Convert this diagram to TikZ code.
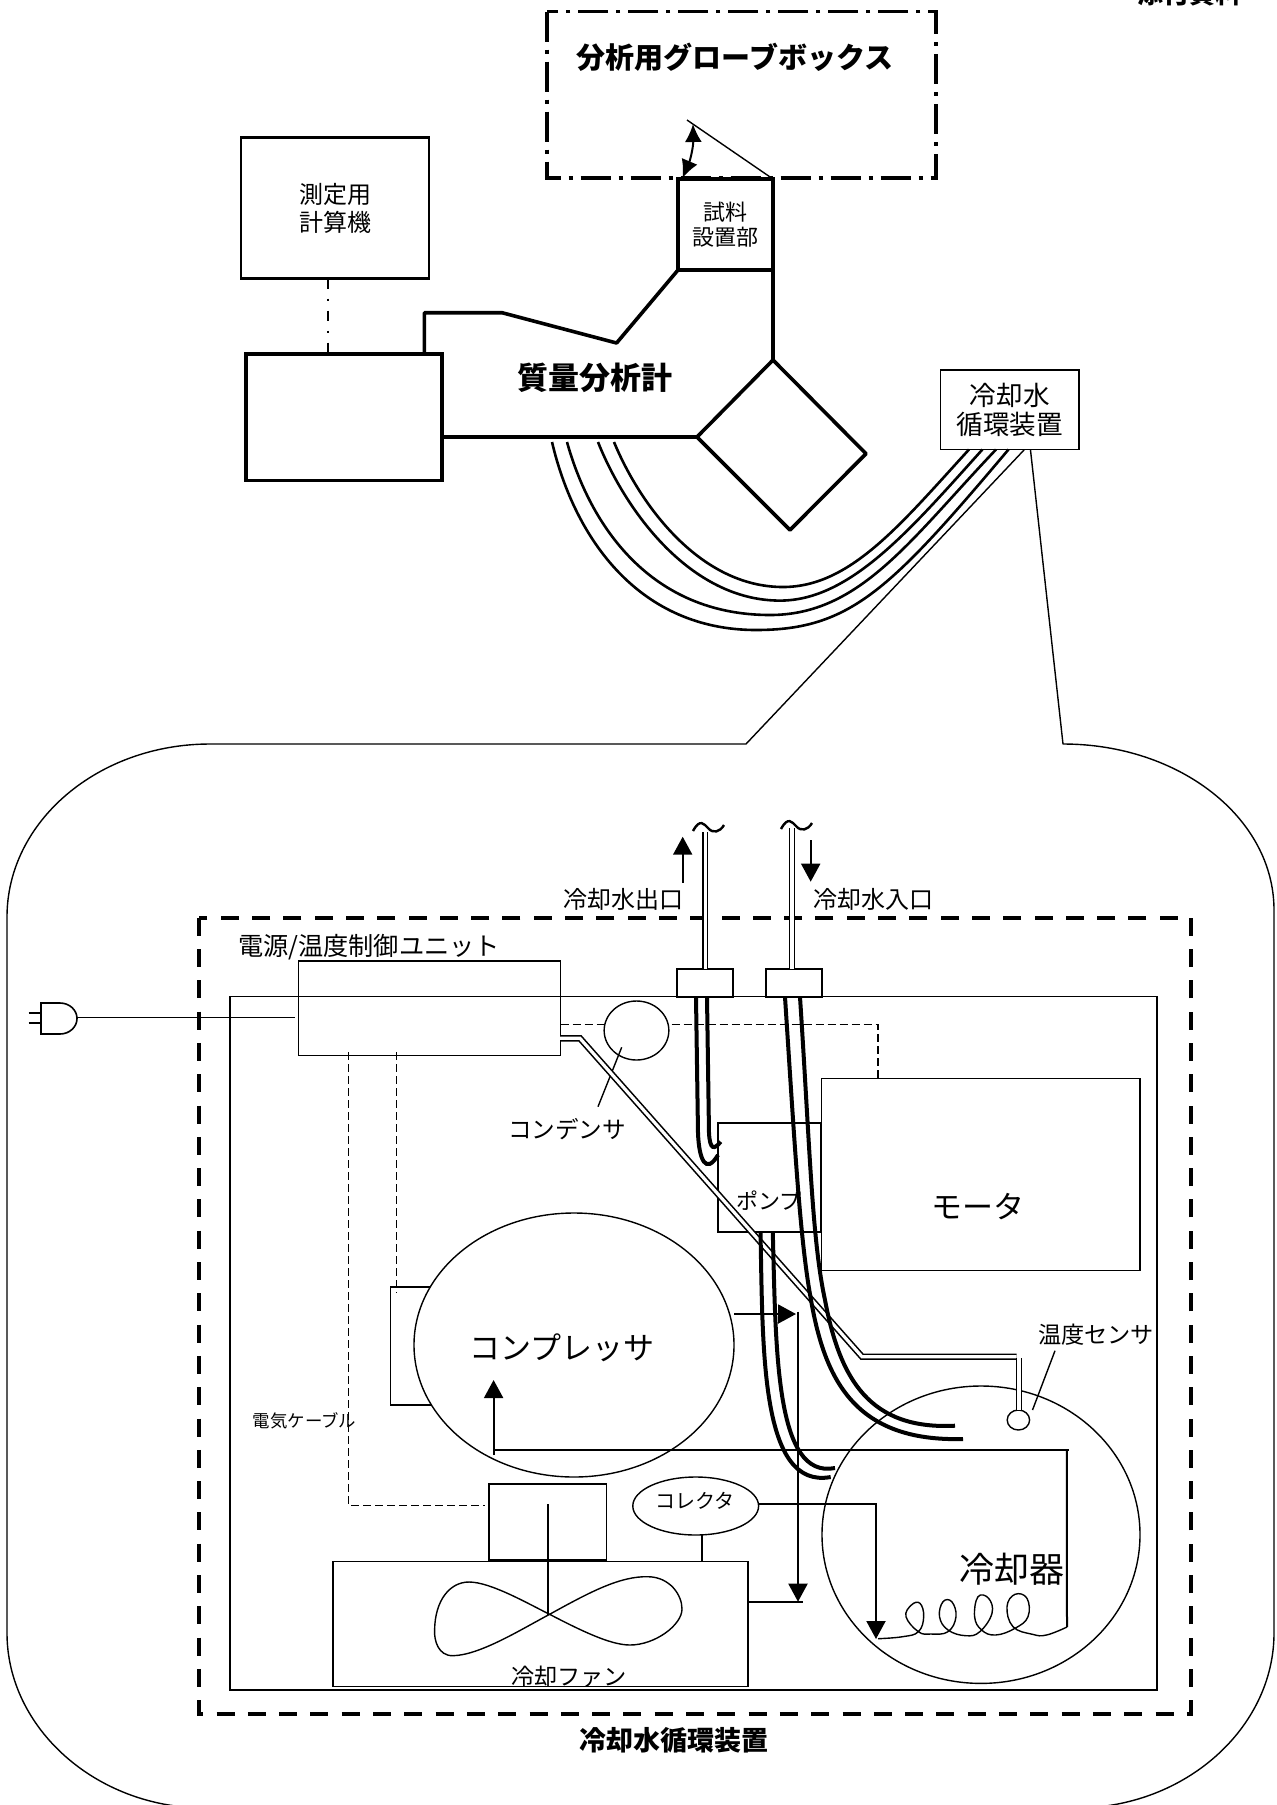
\documentclass[tikz,border=0pt]{standalone}
\usepackage{fontspec}
\setmainfont{Noto Sans CJK JP}
\usepackage{xcolor}
\usetikzlibrary{shapes.geometric, arrows.meta, calc}
\newcommand{\jpsize}[2]{\fontsize{#1pt}{#2pt}\selectfont}
\tikzset{
  unitbox/.style={draw, inner sep=0pt, outer sep=0pt, line width=.7pt},
  heavybox/.style={unitbox, line width=1.8pt},
  unitoval/.style={unitbox, ellipse},
  thinline/.style={line width=.7pt},
  heavyline/.style={line width=1.8pt},
  flowline/.style={line width=1pt, -{Triangle[length=9pt,width=9.5pt]}},
  signalline/.style={line width=.6pt, dash pattern=on 4pt off 2pt},
  coolpipe/.style={line width=2pt},
  hoseline/.style={line width=1.3pt},
  sensorline/.style={draw=black, line width=.8pt, double=white, double distance=1.6pt},
  label/.style={inner sep=0pt, outer sep=0pt, align=center}
}
\begin{document}
\begin{tikzpicture}[x=.5pt, y=-.5pt]
  \useasboundingbox (0,0) rectangle (1276,1805);
  % upper part
  \node[label, font=\bfseries\jpsize{13}{14}, anchor=base west] (annex) at (1137,3) {添付資料－};
  \draw[line width=1.7pt, dash pattern=on 15pt off 4pt on 2pt off 4pt] (547,11.5) rectangle (936,178);
  \node[label, font=\bfseries\jpsize{14.5}{16}] (glovelabel) at (735,57) {分析用グローブボックス};
  \node[heavybox, minimum width=93.75pt, minimum height=70.5pt, line width=1.2pt, font=\jpsize{12}{14}, align=center] (computer) at (335,208) {測定用\\計算機};
  \node[heavybox, minimum width=98pt, minimum height=63.3pt] (msbox) at (344,417.3) {};
  \node[heavybox, minimum width=47.5pt, minimum height=45.5pt, font=\jpsize{11}{12.5}, align=center] (sample) at (725.5,224.5) {試料\\設置部};
  \node[unitbox, minimum width=69.2pt, minimum height=39.75pt, font=\jpsize{13.3}{14.7}, align=center] (chiller) at (1009.8,409.8) {冷却水\\循環装置};
  \draw[line width=1pt, dash pattern=on 5pt off 5pt on 1pt off 5pt] ([xshift=-3.5pt]computer.south) -- ([xshift=-8pt]msbox.north);
  \draw[thinline] (687,120) -- (sample.north east);
  \draw[line width=1pt, {Latex[length=9pt,width=8.5pt]}-{Latex[length=9pt,width=8.5pt]}] (682.5,178) to[bend right=12] (693,124);
  % mass spectrometer outline
  \coordinate (difftop) at (773,360);
  \coordinate (diffleft) at (697,437);
  \draw[heavyline, line join=round] (424.4,354) -- (424.4,312.7) -- (502,312.7) -- (616.6,343) -- (sample.south west);
  \draw[heavyline] (sample.south east) -- (difftop);
  \draw[heavyline] (msbox.east |- diffleft) -- (diffleft);
  \draw[heavyline, line join=round] (difftop) -- (866,453.7) -- (790,530) -- (diffleft) -- cycle;
  \node[label, font=\bfseries\jpsize{15.5}{17}] (mslabel) at (594.6,377.5) {質量分析計};
  % cooling water hoses
  \draw[hoseline] (614,442) .. controls (640,505) and (700,587) .. (783,587) .. controls (850,587) and (900,525) .. (969,449.5);
  \draw[hoseline] (598,442) .. controls (625,510) and (690,600.6) .. (780,600.6) .. controls (850,600.6) and (910,530) .. (982.4,449.5);
  \draw[hoseline] (567,442) .. controls (590,525) and (650,615) .. (770,615) .. controls (860,615) and (910,540) .. (996,449.5);
  \draw[hoseline] (552,442) .. controls (575,540) and (640,630) .. (756,630) .. controls (850,630) and (890,590) .. (1008.5,449.5);
  % callout outline
  \draw[thinline, line join=round] (1024,450) -- (746,744) -- (210,744)
    .. controls (98,744) and (7,821.5) .. (7,917) -- (7,1633)
    .. controls (7,1728) and (96,1808) .. (205,1808) -- (1076,1808)
    .. controls (1185,1808) and (1274,1728) .. (1274,1633) -- (1274,910)
    .. controls (1274,818) and (1179.5,744) .. (1063,744) -- (1030.5,450);
  % chiller unit
  \draw[line width=2pt, dash pattern=on 9pt off 6.65pt] (199,917.7) rectangle (1191,1714);
  \draw[thinline] (230,996.7) rectangle (1157,1690);
  \node[unitbox, minimum width=131.1pt, minimum height=47.35pt] (ctrl) at (429.6,1008.3) {};
  \node[label, font=\jpsize{12.6}{14}, anchor=west] (ctrllabel) at (238,947) {電源/温度制御ユニット};
  \node[unitbox, minimum width=28pt, minimum height=14pt] (outlet) at (705,983) {};
  \node[unitbox, minimum width=28pt, minimum height=14pt] (inlet) at (794,983) {};
  \node[unitbox, minimum width=51.5pt, minimum height=54.5pt] (pump) at (769.5,1177.5) {};
  \node[unitbox, minimum width=159.2pt, minimum height=96.2pt] (motor) at (980.8,1174.5) {};
  \node[unitoval, minimum width=32.35pt, minimum height=29.5pt] (condenser) at (636.5,1030.5) {};
  \node[unitbox, minimum width=30pt, minimum height=59pt] (terminal) at (420.7,1346) {};
  \node[unitoval, fill=white, minimum width=160pt, minimum height=132pt] (compressor) at (574,1345) {};
  \node[unitoval, minimum width=159pt, minimum height=148.7pt] (cooler) at (981,1534.7) {};
  \node[unitoval, minimum width=11.2pt, minimum height=10pt] (sensor) at (1018.4,1420) {};
  \node[unitoval, minimum width=62.9pt, minimum height=29pt] (collector) at (695.7,1506) {};
  \node[unitbox, minimum width=207.5pt, minimum height=62.7pt] (fanbox) at (540.5,1624) {};
  \node[unitbox, minimum width=58.7pt, minimum height=38pt] (fanmotor) at (547.7,1522) {};
  % labels
  \node[label, font=\jpsize{12}{14}] (outletlabel) at (623,899) {冷却水出口};
  \node[label, font=\jpsize{12}{14}] (inletlabel) at (873,899) {冷却水入口};
  \node[label, font=\jpsize{11.8}{14}] (condenserlabel) at (567,1129) {コンデンサ};
  \node[label, font=\jpsize{11}{13}] (pumplabel) at (768.7,1201) {ポンプ};
  \node[label, font=\jpsize{15.5}{17}] (motorlabel) at (978,1207) {モータ};
  \node[label, font=\jpsize{15.5}{17}] (compressorlabel) at (562,1348) {コンプレッサ};
  \node[label, font=\jpsize{11.6}{14}] (sensorlabel) at (1096,1335) {温度センサ};
  \node[label, font=\jpsize{8.7}{10}] (cablelabel) at (304.6,1421) {電気ケーブル};
  \node[label, font=\jpsize{10}{12}] (collectorlabel) at (695,1501) {コレクタ};
  \node[label, font=\jpsize{17.5}{20}] (coolerlabel) at (1012,1569) {冷却器};
  \node[label, font=\jpsize{11.6}{13}] (fanlabel) at (569,1677) {冷却ファン};
  \node[label, font=\bfseries\jpsize{13.5}{15}] (unitlabel) at (674,1740) {冷却水循環装置};
  % plug and cables
  \draw[line width=.8pt] (41,1003) -- (60,1003) arc[start angle=90, end angle=-90, x radius=17, y radius=-15.5] -- (41,1034) -- cycle;
  \draw[line width=.8pt] (28.5,1012.7) -- (41,1012.7) (28.5,1022.7) -- (41,1022.7);
  \draw[thinline] (77,1017.3) -- ([xshift=-2pt,yshift=-4.5pt]ctrl.west);
  \draw[signalline] (348.8,1052) -- (348.8,1505.7) -- (485.4,1505.7);
  \draw[signalline] (396.6,1052) -- (396.6,1292.7);
  \draw[signalline] (ctrl.east |- 0,1024.7) -- (condenser.west |- 0,1024.7);
  \draw[signalline] (671.7,1024.7) -- (878,1024.7) -- (878,1081.7);
  \draw[thinline] (621.7,1047.3) -- (598,1106.7);
  \draw[thinline] (1055,1350.7) -- (1032.5,1410);
  % temperature sensor tube
  \draw[sensorline, line join=miter] (560,1038.3) -- (580,1038.3) -- (862,1356.7) -- (1016.7,1356.7);
  \draw[sensorline] (1019,1358) -- (1019,1410);
  % refrigerant lines
  \coordinate (coilstart) at (876,1639);
  \coordinate (coilend) at (1067,1627);
  \coordinate (junction) at (798,1601.7);
  \draw[flowline] (734,1314) -- (796,1314);
  \draw[flowline] (798,1311.7) -- (junction);
  \draw[line width=1pt] (junction -| fanbox.east) -- (802.6,1601.7);
  \draw[flowline] (493.6,1455) -- (493.6,1380);
  \draw[line width=1pt] (493.6,1450) -- (1069,1450);
  \draw[line width=1pt] (1066.8,1450) -- (coilend);
  \draw[flowline] (collector.east |- 0,1504) -| (coilstart);
  \draw[line width=1pt] ([xshift=3pt]collector.south) -- ([xshift=3pt]collector.south |- fanbox.north);
  \draw[thinline] plot[smooth, tension=.7] coordinates {(878,1638.7) (902.6,1636.7) (918.4,1631.7) (923.7,1616.7) (920,1603.3) (911.4,1605) (906,1616.7) (918.4,1631.7) (930.7,1634) (948,1631.7) (956,1616.7) (951.8,1601.7) (943,1601.7) (939.5,1616.7) (948,1630) (965.8,1635.7) (979.8,1631.7) (992,1613.3) (988.6,1598.3) (978,1596.7) (974.6,1616.7) (981.6,1630) (995.6,1635) (1015,1628.3) (1028,1616.7) (1027,1598.3) (1015,1594.3) (1007,1606.7) (1013,1626.7) (1032.5,1634.3) (1046.5,1635) (coilend)};
  % fan
  \coordinate (fanhub) at (549.6,1614.3);
  \draw[thinline] (548,1504) -- (548,1615);
  \draw[thinline] (fanhub) .. controls (590,1592) and (620,1576) .. (648,1576.7) .. controls (670,1577) and (682,1595) .. (682,1609) .. controls (682,1625) and (655,1645) .. (630,1645) .. controls (610,1645) and (580,1630) .. (fanhub);
  \draw[thinline] (fanhub) .. controls (520,1630) and (480,1655) .. (453,1655.7) .. controls (438,1656) and (434,1640) .. (434.6,1630) .. controls (435,1600) and (450,1582) .. (469,1582) .. controls (490,1582) and (525,1602) .. (fanhub);
  % water pipes
  \draw[coolpipe] (696,997) -- (698,1133) .. controls (699,1160) and (706,1175) .. (718,1155);
  \draw[coolpipe] (707,997) -- (709,1133) .. controls (710,1150) and (714,1150) .. (720.7,1141.7);
  \draw[coolpipe] (785,997) .. controls (795,1150) and (800,1240) .. (811,1300) .. controls (825,1380) and (855,1442) .. (963,1439);
  \draw[coolpipe] (800,997) .. controls (810,1150) and (812,1240) .. (825,1300) .. controls (840,1380) and (870,1430) .. (955,1425.7);
  \draw[coolpipe] (760.5,1233) .. controls (763,1350) and (760,1490) .. (830.7,1477);
  \draw[coolpipe] (772.8,1233) .. controls (776,1350) and (775,1480) .. (835,1468);
  % water lines to the outside
  \draw[sensorline] (705.2,832) -- (705.2,969);
  \draw[sensorline] (792,828) -- (792,969);
  \draw[line width=1.2pt] (693,831) .. controls (700,818) and (704,824) .. (708,828) .. controls (713,834) and (720,832) .. (724,825);
  \draw[line width=1.2pt] (781,829) .. controls (788,816) and (792,822) .. (796,826) .. controls (801,832) and (808,830) .. (812,823);
  \draw[flowline] (682.7,882.7) -- (682.7,836.7);
  \draw[flowline] (810.7,840) -- (810.7,881.7);
\end{tikzpicture}
\end{document}
